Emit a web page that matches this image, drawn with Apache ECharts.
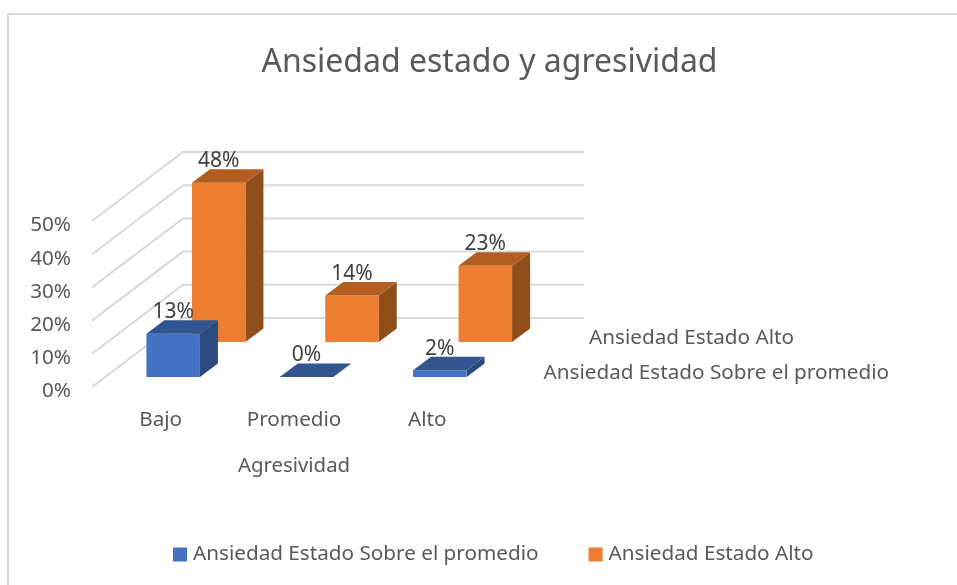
<!DOCTYPE html>
<html><head><meta charset="utf-8">
<style>html,body{margin:0;padding:0;background:#fff}#c{width:957px;height:585px}</style>
<script src="https://cdn.jsdelivr.net/npm/echarts@6/dist/echarts.min.js"></script>
</head><body><div id="c"></div>
<script>
const categories = ['Bajo', 'Promedio', 'Alto'];
const sobrePromedio = [13, 0, 2];
const alto = [48, 14, 23];
const ticks = [0, 10, 20, 30, 40, 50];
const seriesNames = ['Ansiedad Estado Sobre el promedio', 'Ansiedad Estado Alto'];

const FONT = '"Noto Sans","Open Sans",sans-serif';
const TEXT = '#595959';
const WALL = [91, -69];       // floor depth vector
const BOX = [18, -13.5];      // bar depth vector
const BAR_W = 53.5;
const FS = 20.7;

function barRender(dx, dy, front, top, side) {
  return function (params, api) {
    const c = api.coord([api.value(0), api.value(1)]);
    const z = api.coord([api.value(0), 0]);
    const x0 = c[0] + dx - BAR_W / 2, x1 = x0 + BAR_W;
    const yT = c[1] + dy, yB = z[1] + dy;
    const bx = BOX[0], by = BOX[1];
    const children = [];
    children.push({type: 'polygon', shape: {points: [[x1, yT], [x1 + bx, yT + by], [x1 + bx, yB + by], [x1, yB]]}, style: {fill: side}});
    if (yB - yT > 0.01) children.push({type: 'rect', shape: {x: x0, y: yT, width: BAR_W, height: yB - yT}, style: {fill: front}});
    children.push({type: 'polygon', shape: {points: [[x0, yT], [x1, yT], [x1 + bx, yT + by], [x0 + bx, yT + by]]}, style: {fill: top}});
    children.push({type: 'text', style: {text: api.value(1) + '%', x: (x0 + x1) / 2, y: yT + by - 8, align: 'center', verticalAlign: 'middle', fill: '#404040', font: '21px ' + FONT}});
    return {type: 'group', children: children};
  };
}

function gridRender(params, api) {
  const cs = params.coordSys;
  const p = api.coord([0, api.value(0)]);
  const x = cs.x - 2, y = p[1];
  return {type: 'polyline', shape: {points: [[x, y], [x + WALL[0], y + WALL[1]], [cs.x + cs.width + WALL[0] - 1, y + WALL[1]]]}, style: {fill: 'none', stroke: '#d9d9d9', lineWidth: 2}};
}

function depthLabelRender(dx, dy) {
  return function (params, api) {
    const cs = params.coordSys;
    const z = api.coord([0, 0]);
    return {type: 'text', style: {text: seriesNames[api.value(0)], x: cs.x + cs.width + dx + 37, y: z[1] + dy - 4, align: 'left', verticalAlign: 'middle', fill: TEXT, font: FS + 'px ' + FONT}};
  };
}

const chart = echarts.init(document.getElementById('c'), null, {renderer: 'canvas'});
chart.setOption({
  animation: false,
  backgroundColor: '#fff',
  title: {text: 'Ansiedad estado y agresividad', left: 484.5, top: 42, textAlign: 'center',
    textStyle: {fontFamily: FONT, fontSize: 32, fontWeight: 'normal', color: TEXT}},
  legend: {data: seriesNames, left: 168, top: 539, itemWidth: 14, itemHeight: 14, itemGap: 50, icon: 'rect',
    textStyle: {fontFamily: FONT, fontSize: FS, color: TEXT, padding: [0, 0, 0, 1]}},
  grid: {left: 94, top: 221, width: 400, height: 166},
  xAxis: {type: 'category', data: categories, name: 'Agresividad', nameLocation: 'middle', nameGap: 69,
    nameTextStyle: {fontFamily: FONT, fontSize: 20.4, color: TEXT},
    axisLine: {show: false}, axisTick: {show: false},
    axisLabel: {fontFamily: FONT, fontSize: FS, color: TEXT, margin: 23}},
  yAxis: {type: 'value', min: 0, max: 50, interval: 10,
    axisLine: {show: false}, axisTick: {show: false}, splitLine: {show: false},
    axisLabel: {formatter: '{value}%', fontFamily: FONT, fontSize: FS, color: TEXT, margin: 23, verticalAlign: 'top', lineHeight: 9}},
  graphic: [{type: 'rect', shape: {x: 8, y: 14, width: 960, height: 590}, style: {fill: 'none', stroke: '#d9d9d9', lineWidth: 2}, silent: true}],
  series: [
    {type: 'custom', name: 'grid', silent: true, z: 1, data: ticks.map(v => [v]), encode: {y: 0}, renderItem: gridRender},
    {type: 'custom', name: seriesNames[1], z: 2, itemStyle: {color: '#ED7D31'}, data: alto.map((v, i) => [i, v]), encode: {x: 0, y: 1},
      renderItem: barRender(58, -45, '#ED7D31', '#B35D20', '#8F4E1A')},
    {type: 'custom', name: seriesNames[0], z: 3, itemStyle: {color: '#4472C4'}, data: sobrePromedio.map((v, i) => [i, v]), encode: {x: 0, y: 1},
      renderItem: barRender(12.5, -10, '#4472C4', '#325591', '#2A4A80')},
    {type: 'custom', name: 'depth', silent: true, z: 4, data: [[1]], encode: {y: 0}, renderItem: depthLabelRender(58, -45)},
    {type: 'custom', name: 'depth2', silent: true, z: 4, data: [[0]], encode: {y: 0}, renderItem: depthLabelRender(12.5, -10)}
  ]
});
</script></body></html>
